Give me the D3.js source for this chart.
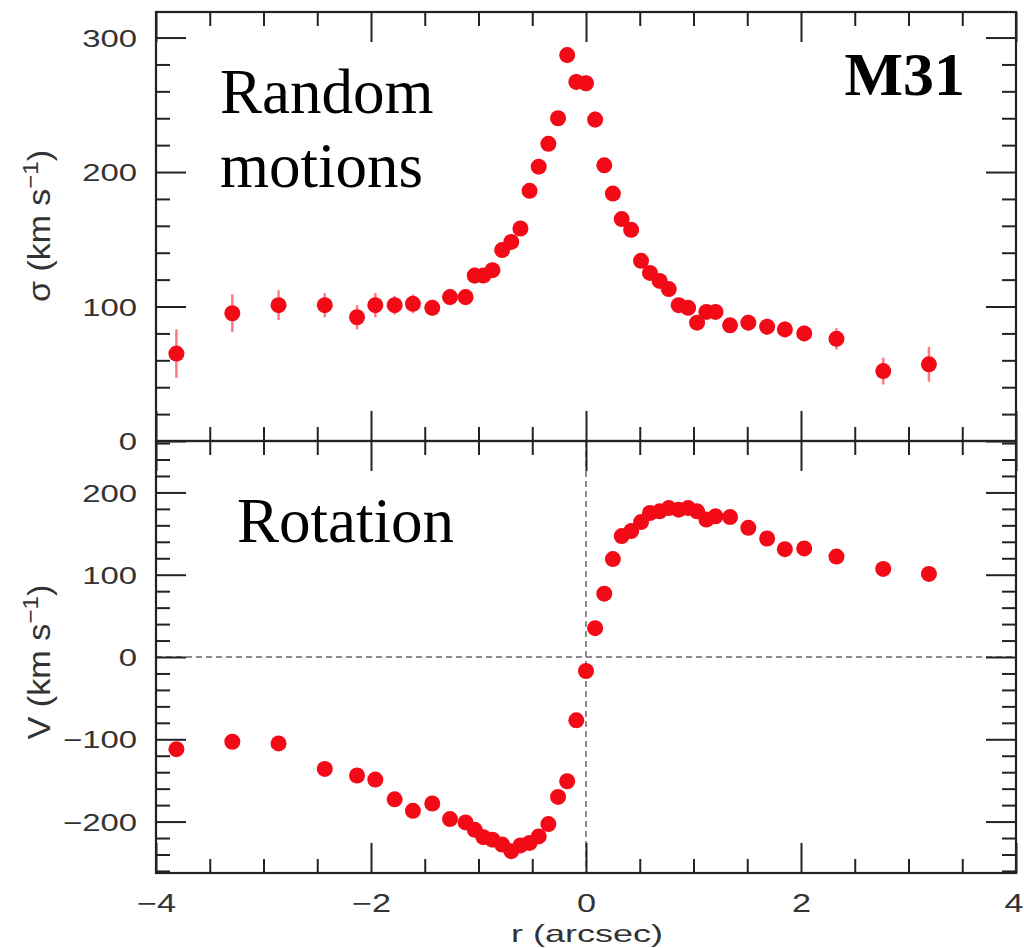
<!DOCTYPE html>
<html>
<head>
<meta charset="utf-8">
<script src="https://cdn.jsdelivr.net/npm/d3@7"></script>
<style>
  html, body { margin: 0; padding: 0; background: #fff; }
  svg { display: block; }
</style>
</head>
<body>
<svg id="chart" width="1024" height="948"></svg>
<script>
// ---------- data ----------
const radius = [-3.81,-3.29,-2.86,-2.43,-2.13,-1.96,-1.78,-1.61,-1.43,-1.265,-1.12,-1.035,-0.955,-0.87,-0.78,-0.695,-0.61,-0.525,-0.44,-0.35,-0.26,-0.175,-0.09,
                0,0.085,0.17,0.25,0.332,0.42,0.512,0.595,0.685,0.77,0.862,0.95,1.033,1.12,1.205,1.34,1.51,1.685,1.85,2.03,2.33,2.765,3.19];
const sigma = [65,95,101,101,92,101,101,102,99,107,107,123,123,127,142,148,158,186,204,221,240,287,267,
               266,239,205,184,165,157,134,125,119,113,101,99,88,96,96,86,88,85,83,80,76,52,57];
const sigmaErr = [18,14,11,9,9,9,7,7,6,6,6,6,5,5,5,5,5,5,5,5,5,6,6,
                  6,6,5,5,5,5,5,5,5,5,5,5,5,5,5,5,6,6,6,6,8,10,13];
const velocity = [-112,-103,-105,-136,-144,-149,-173,-187,-178,-197,-201,-210,-219,-222,-228,-236,-229,-226,-218,-203,-170,-151,-77,
                  -17,35,77,119,147,153,164,175,177,181,179,181,177,167,171,170,157,144,131,132,122,107,101];
const velocityErr = [5,5,5,5,5,5,5,5,5,5,5,5,5,5,5,5,5,5,5,5,5,5,5,
                     5,5,5,5,5,5,5,5,5,5,5,5,5,5,5,5,5,5,5,5,5,5,5];
const xTicks = [-4,-2,0,2,4];
const sigmaTicks = [0,100,200,300];
const velocityTicks = [-200,-100,0,100,200];
const xLabel = "r (arcsec)";

// ---------- layout ----------
const L = 156, R = 1016, T = 12, M = 441, B = 873;
const svg = d3.select("#chart");
const x = d3.scaleLinear().domain([-4, 4]).range([L, R]);
const ySig = d3.scaleLinear().domain([0, 319]).range([M, T]);
const yVel = d3.scaleLinear().domain([-262.5, 262.5]).range([B, M]);

const tickFont = "'Liberation Sans', Arial, sans-serif";
const tickColor = "#333";
const stretch = 1.37;
const majorLen = 30, minorLen = 14;

const xMinor = d3.range(-4, 4.001, 0.5).filter(v => Math.abs(v % 2) > 1e-6);

function frameAxes(yScale, yMajor, yMinorStep, top, bottom, showXLabels) {
  const [y0, y1] = yScale.domain();
  const yMinor = d3.range(Math.ceil(y0 / yMinorStep) * yMinorStep, y1 + 1e-6, yMinorStep)
                   .filter(v => !yMajor.includes(v));
  const g = svg.append("g");
  const style = sel => {
    sel.select(".domain").remove();
    sel.selectAll("line").attr("stroke", "#222").attr("stroke-width", 2);
  };
  // left
  g.append("g").attr("transform", `translate(${L},0)`)
    .call(d3.axisLeft(yScale).tickValues(yMajor).tickSize(-majorLen).tickPadding(19).tickFormat(d => d3.format("d")(d).replace("-", "\u2212")))
    .call(style)
    .call(s => s.selectAll("text")
      .attr("font-family", tickFont).attr("font-size", 24).attr("fill", tickColor)
      .attr("dy", "0.36em")
      .attr("transform", function() { const xx = +d3.select(this).attr("x"); d3.select(this).attr("x", 0); return `translate(${xx},0) scale(${stretch},1)`; }));
  g.append("g").attr("transform", `translate(${L},0)`)
    .call(d3.axisLeft(yScale).tickValues(yMinor).tickSize(-minorLen).tickFormat(""))
    .call(style);
  // right
  g.append("g").attr("transform", `translate(${R},0)`)
    .call(d3.axisRight(yScale).tickValues(yMajor).tickSize(-majorLen).tickFormat(""))
    .call(style);
  g.append("g").attr("transform", `translate(${R},0)`)
    .call(d3.axisRight(yScale).tickValues(yMinor).tickSize(-minorLen).tickFormat(""))
    .call(style);
  // top
  g.append("g").attr("transform", `translate(0,${top})`)
    .call(d3.axisTop(x).tickValues(xTicks).tickSize(-majorLen).tickFormat(""))
    .call(style);
  g.append("g").attr("transform", `translate(0,${top})`)
    .call(d3.axisTop(x).tickValues(xMinor).tickSize(-minorLen).tickFormat(""))
    .call(style);
  // bottom
  const bAx = g.append("g").attr("transform", `translate(0,${bottom})`)
    .call(d3.axisBottom(x).tickValues(xTicks).tickSize(-majorLen).tickPadding(21)
      .tickFormat(showXLabels ? (d => d3.format("d")(d).replace("-", "\u2212")) : ""))
    .call(style);
  if (showXLabels) {
    bAx.selectAll("text")
      .attr("font-family", tickFont).attr("font-size", 25).attr("fill", tickColor)
      .attr("text-anchor", d => d === 4 ? "end" : "middle")
      .attr("transform", function(d) {
        const yy = +d3.select(this).attr("y"); d3.select(this).attr("y", 0);
        const dx = d === 4 ? 7 : 0;
        return `translate(${dx},${yy}) scale(${stretch},1)`;
      });
  }
  g.append("g").attr("transform", `translate(0,${bottom})`)
    .call(d3.axisBottom(x).tickValues(xMinor).tickSize(-minorLen).tickFormat(""))
    .call(style);
  // frame
  g.append("rect").attr("x", L).attr("y", top).attr("width", R - L).attr("height", bottom - top)
    .attr("fill", "none").attr("stroke", "#222").attr("stroke-width", 2.2);
}

// reference dashed lines (bottom panel)
svg.append("line").attr("x1", L).attr("x2", R).attr("y1", yVel(0)).attr("y2", yVel(0))
  .attr("stroke", "#666").attr("stroke-width", 1.5).attr("stroke-dasharray", "6,4");
svg.append("line").attr("x1", x(0)).attr("x2", x(0)).attr("y1", M).attr("y2", B)
  .attr("stroke", "#666").attr("stroke-width", 1.5).attr("stroke-dasharray", "6,4");

frameAxes(ySig, sigmaTicks, 20, T, M, false);
frameAxes(yVel, velocityTicks, 20, M, B, true);

// data marks
const red = "#f20a16", errRed = "#ff7b80";
function drawSeries(vals, errs, yScale) {
  const g = svg.append("g");
  g.selectAll("line.err").data(radius).join("line").attr("class", "err")
    .attr("x1", (d) => x(d)).attr("x2", (d) => x(d))
    .attr("y1", (d, i) => yScale(vals[i] - errs[i])).attr("y2", (d, i) => yScale(vals[i] + errs[i]))
    .attr("stroke", errRed).attr("stroke-width", 2.5);
  g.selectAll("circle").data(radius).join("circle")
    .attr("cx", d => x(d)).attr("cy", (d, i) => yScale(vals[i])).attr("r", 8)
    .attr("fill", red);
}
drawSeries(sigma, sigmaErr, ySig);
drawSeries(velocity, velocityErr, yVel);

// axis titles
function yTitle(cx, cy, sym, target) {
  const g = svg.append("g").attr("transform", `translate(${cx},${cy}) rotate(-90)`);
  const t = g.append("text").attr("text-anchor", "middle")
    .attr("font-family", tickFont).attr("font-size", 24).attr("fill", tickColor);
  t.append("tspan").text(sym + " (km s");
  t.append("tspan").attr("font-size", 17).attr("dy", "-0.55em").text("\u22121");
  t.append("tspan").attr("dy", "0.4em").text(")");
  const w = t.node().getComputedTextLength();
  t.attr("transform", `scale(${target / w},1.3)`);
}
yTitle(50, 226, "\u03C3", 152);
yTitle(50, 662, "V", 155);

const xt = svg.append("text").attr("x", 0).attr("y", 0).attr("text-anchor", "middle")
  .attr("font-family", tickFont).attr("font-size", 24).attr("fill", tickColor).text(xLabel);
const xw = xt.node().getComputedTextLength();
xt.attr("transform", `translate(${x(0) + 1},942) scale(${152 / xw},1)`);

// annotations
const serif = "'Liberation Serif', 'Times New Roman', serif";
svg.append("text").attr("x", 220).attr("y", 113).attr("font-family", serif).attr("font-size", 63).text("Random");
svg.append("text").attr("x", 220).attr("y", 187).attr("font-family", serif).attr("font-size", 63).text("motions");
svg.append("text").attr("x", 237).attr("y", 542).attr("font-family", serif).attr("font-size", 63).text("Rotation");
svg.append("text").attr("x", 965).attr("y", 95).attr("text-anchor", "end").attr("font-family", serif)
  .attr("font-weight", "bold").attr("font-size", 62).text("M31");
</script>
</body>
</html>
